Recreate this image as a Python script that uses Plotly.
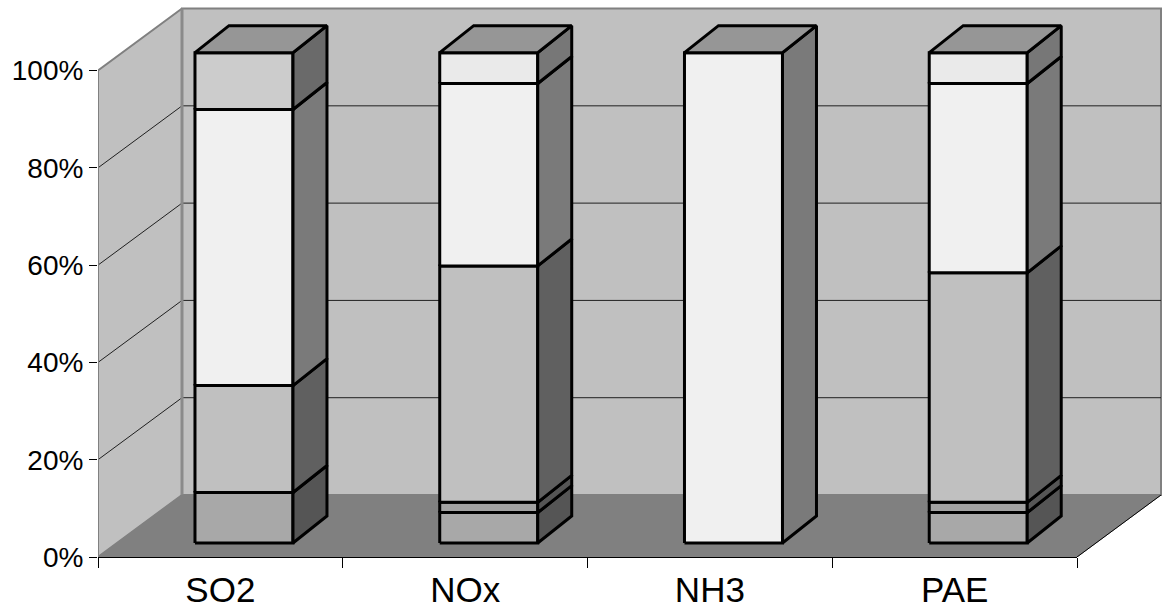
import plotly.graph_objects as go

# ---------------- data ----------------
categories = ["SO2", "NOx", "NH3", "PAE"]
series_1 = [10.3, 6.2, 0.0, 6.2]
series_2 = [0.0, 2.1, 0.0, 2.1]
series_3 = [21.8, 48.2, 0.0, 46.8]
series_4 = [56.3, 37.2, 100.0, 38.6]
series_5 = [0.0, 6.3, 0.0, 6.3]
series_6 = [11.6, 0.0, 0.0, 0.0]
y_ticks = [0, 20, 40, 60, 80, 100]
y_tick_text = ["0%", "20%", "40%", "60%", "80%", "100%"]

series = [series_1, series_2, series_3, series_4, series_5, series_6]
front_colors = ["#a8a8a8", "#a2a2a2", "#c0c0c0", "#f0f0f0", "#eaeaea", "#cccccc"]
side_colors = ["#555555", "#555555", "#606060", "#7a7a7a", "#777777", "#6a6a6a"]
top_color = "#969696"

# ---------------- geometry (pixel-derived styling constants) ----------------
W, H = 1163, 613
ML, MR, MT, MB = 98, 0, 0, 56
plot_w = W - ML - MR
plot_h = H - MT - MB
cat_px = 244.75
x0 = -0.5
x1 = x0 + plot_w / cat_px
y_lo, y_hi = 0.0, 114.5
py = plot_h / (y_hi - y_lo)          # px per percent

wall_dx = 84 / cat_px
wall_dy = 62 / py
bar_ox = 23.6 / cat_px
bar_oy = 14 / py
bar_scale = 1.008
bar_hw = 49 / cat_px
bar_ddx = 34 / cat_px
bar_ddy = 27 / py
n = len(categories)
x_end = x0 + n

fig = go.Figure()


def poly(xs, ys, fill, lc, lw):
    fig.add_trace(go.Scatter(
        x=list(xs) + [xs[0]], y=list(ys) + [ys[0]], mode="lines",
        fill="toself", fillcolor=fill, line=dict(color=lc, width=lw),
        hoverinfo="skip", showlegend=False))


def line(xs, ys, lc, lw):
    fig.add_trace(go.Scatter(x=xs, y=ys, mode="lines", line=dict(color=lc, width=lw),
                             hoverinfo="skip", showlegend=False))


# side wall
poly([x0, x0, x0 + wall_dx, x0 + wall_dx], [0, 100, 100 + wall_dy, wall_dy], "#c0c0c0", "#808080", 2)
# back wall
poly([x0 + wall_dx, x_end + wall_dx, x_end + wall_dx, x0 + wall_dx],
     [wall_dy, wall_dy, 100 + wall_dy, 100 + wall_dy], "#c0c0c0", "#808080", 2)
# gridlines
for t in y_ticks[1:-1]:
    line([x0, x0 + wall_dx, x_end + wall_dx], [t, t + wall_dy, t + wall_dy], "#202020", 1)
# back wall left edge (thicker grey)
line([x0 + wall_dx, x0 + wall_dx], [wall_dy, 100 + wall_dy], "#8a8a8a", 3)
# floor
poly([x0, x_end, x_end + wall_dx, x0 + wall_dx], [0, 0, wall_dy, wall_dy], "#808080", "#808080", 1)
line([x_end, x_end + wall_dx], [0, wall_dy], "#000000", 1)
line([x0, x0], [0, 100], "#808080", 2)

# bars
for i in range(n):
    xl = i + bar_ox - bar_hw
    xr = i + bar_ox + bar_hw
    base = 0.0
    top_idx = max(k for k in range(len(series)) if series[k][i] > 0)
    for k, s in enumerate(series):
        v = s[i]
        if v <= 0:
            continue
        yb = bar_oy + base * bar_scale
        yt = bar_oy + (base + v) * bar_scale
        poly([xl, xr, xr, xl], [yb, yb, yt, yt], front_colors[k], "#000000", 3)
        poly([xr, xr + bar_ddx, xr + bar_ddx, xr], [yb, yb + bar_ddy, yt + bar_ddy, yt],
             side_colors[k], "#000000", 3)
        if k == top_idx:
            poly([xl, xr, xr + bar_ddx, xl + bar_ddx], [yt, yt, yt + bar_ddy, yt + bar_ddy],
                 top_color, "#000000", 3)
        base += v

# dummy trace for the secondary x axis (front floor edge + boundary ticks)
fig.add_trace(go.Scatter(x=[x0, x_end], y=[0, 0], xaxis="x2", mode="lines",
                         line=dict(color="rgba(0,0,0,0)"), hoverinfo="skip", showlegend=False))

font = dict(family="Liberation Sans, Arial, sans-serif", size=28, color="#000000")
xfont = dict(family="Liberation Sans, Arial, sans-serif", size=35, color="#000000")
fig.update_layout(
    width=W, height=H,
    margin=dict(l=ML, r=MR, t=MT, b=MB, autoexpand=False),
    paper_bgcolor="white", plot_bgcolor="rgba(0,0,0,0)",
    showlegend=False,
    font=font,
    xaxis=dict(range=[x0, x1], showgrid=False, zeroline=False, showline=False,
               tickvals=list(range(n)), ticktext=categories, ticks="outside",
               ticklen=2, tickcolor="rgba(0,0,0,0)", tickfont=xfont, fixedrange=True,
               automargin=False),
    xaxis2=dict(range=[x0, x_end], domain=[0, (x_end - x0) / (x1 - x0)], anchor="y",
                showgrid=False, zeroline=False, showline=True, linecolor="#000000", linewidth=1,
                tickvals=[x0 + j for j in range(n + 1)], ticks="outside", ticklen=10,
                tickcolor="#000000", tickwidth=1, showticklabels=False, fixedrange=True,
                automargin=False),
    yaxis=dict(range=[y_lo, y_hi], showgrid=False, zeroline=False, showline=False,
               tickvals=y_ticks, ticktext=y_tick_text, ticks="outside", ticklen=8,
               tickcolor="#000000", tickwidth=1, tickfont=font, fixedrange=True,
               automargin=False),
)

fig.write_html("out.html", config={"displayModeBar": False},
               post_script="document.body.style.margin='0px';document.body.style.overflow='hidden';")
